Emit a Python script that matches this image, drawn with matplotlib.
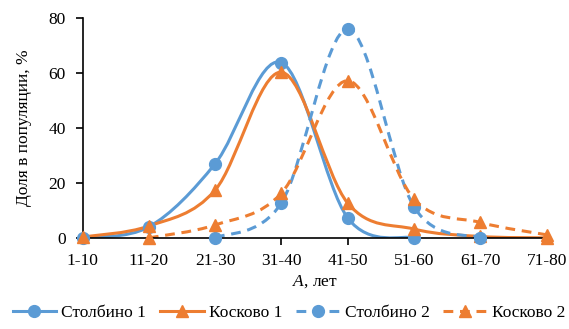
import numpy as np
import matplotlib
matplotlib.use("Agg")
import matplotlib.pyplot as plt
from matplotlib.path import Path
from matplotlib.patches import PathPatch
from matplotlib.lines import Line2D

plt.rcParams['font.family'] = ['Liberation Serif', 'DejaVu Serif']
plt.rcParams['mathtext.fontset'] = 'custom'
plt.rcParams['mathtext.it'] = 'Liberation Serif:italic'
plt.rcParams['mathtext.rm'] = 'Liberation Serif'

# age groups
groups = ["1-10", "11-20", "21-30", "31-40", "41-50", "51-60", "61-70", "71-80"]

# share in population, % (nan = no point)
stolbino1 = [0, 4, 27, 63.8, 7.2, 0, np.nan, np.nan]
koskovo1 = [0.3, 4.3, 17.4, 60.3, 12.6, 3.2, 0.5, 0]
stolbino2 = [np.nan, np.nan, 0, 12.8, 76, 11.2, 0, np.nan]
koskovo2 = [np.nan, 0, 4.7, 16.3, 57.2, 14.1, 5.6, 1.1]

blue = "#5B9BD5"
orange = "#ED7D31"


def smooth_path(xs, ys):
    # Excel-like smoothed line: cubic bezier through the points
    pts = [(x, y) for x, y in zip(xs, ys) if not np.isnan(y)]
    p = np.array(pts, dtype=float)
    verts = [p[0]]
    codes = [Path.MOVETO]
    n = len(p)
    for i in range(n - 1):
        p0 = p[i - 1] if i > 0 else p[i]
        p1 = p[i]
        p2 = p[i + 1]
        p3 = p[i + 2] if i + 2 < n else p[i + 1]
        c1 = p1 + (p2 - p0) / 6.0
        c2 = p2 - (p3 - p1) / 6.0
        verts += [c1, c2, p2]
        codes += [Path.CURVE4] * 3
    return Path(verts, codes)


fig = plt.figure(figsize=(5.69, 3.29), dpi=100)
ax = fig.add_axes([0.145, 0.277, 0.816, 0.668])

x = np.arange(len(groups))
series = [
    ("Столбино 1", stolbino1, blue, "o", "-"),
    ("Косково 1", koskovo1, orange, "^", "-"),
    ("Столбино 2", stolbino2, blue, "o", "--"),
    ("Косково 2", koskovo2, orange, "^", "--"),
]

handles = []
for name, vals, col, mk, ls in series:
    vals = np.array(vals, dtype=float)
    patch = PathPatch(smooth_path(x, vals), facecolor="none", edgecolor=col,
                      lw=2.2, linestyle=ls, capstyle="butt")
    if ls == "--":
        patch.set_linestyle((0, (3.2, 2.2)))
    ax.add_patch(patch)
    ax.plot(x, vals, linestyle="none", marker=mk, color=col,
            markersize=8.5 if mk == "o" else 9, clip_on=False, zorder=3)
    h = Line2D([], [], color=col, lw=2.2, marker=mk,
               markersize=8.5 if mk == "o" else 9)
    if ls == "--":
        h.set_dashes((3.2, 2.2))
    handles.append(h)

ax.set_xlim(0, len(groups) - 1)
ax.set_ylim(0, 80)
ax.set_xticks(x)
ax.set_xticklabels(groups)
ax.set_yticks([0, 20, 40, 60, 80])
ax.tick_params(axis="both", direction="out", length=5, width=1.2,
               labelsize=12.5, colors="black", pad=6)
ax.tick_params(axis="y", pad=7)
for s in ["top", "right"]:
    ax.spines[s].set_visible(False)
for s in ["left", "bottom"]:
    ax.spines[s].set_linewidth(1.2)
    ax.spines[s].set_zorder(1)

ax.set_xlabel("$\\mathit{A}$, лет", fontsize=12.5, labelpad=3)
ax.set_ylabel("Доля в популяции, %", fontsize=12.5, labelpad=12)

fig.legend(handles, [s[0] for s in series], loc="center",
           bbox_to_anchor=(0.508, 0.049), ncol=4, frameon=False, fontsize=12.5,
           handlelength=2.5, handletextpad=0.3, columnspacing=0.8)

fig.savefig("out.png", dpi=100)
